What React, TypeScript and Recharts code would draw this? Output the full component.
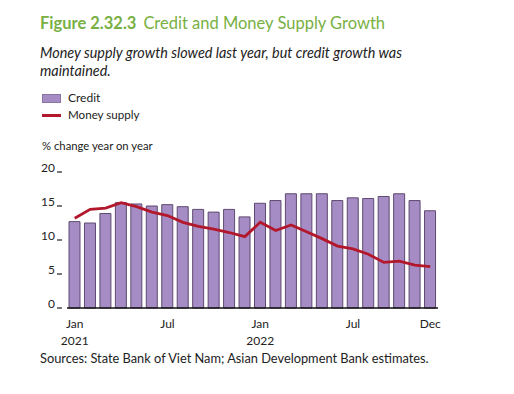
import React from 'react';
import { ComposedChart, Bar, Line, XAxis, YAxis } from 'recharts';

const months = [
  'Jan 2021', 'Feb 2021', 'Mar 2021', 'Apr 2021', 'May 2021', 'Jun 2021',
  'Jul 2021', 'Aug 2021', 'Sep 2021', 'Oct 2021', 'Nov 2021', 'Dec 2021',
  'Jan 2022', 'Feb 2022', 'Mar 2022', 'Apr 2022', 'May 2022', 'Jun 2022',
  'Jul 2022', 'Aug 2022', 'Sep 2022', 'Oct 2022', 'Nov 2022', 'Dec 2022',
];

const credit = [
  12.7, 12.5, 13.9, 15.5, 15.3, 15.0, 15.2, 14.9, 14.5, 14.1, 14.5, 13.4,
  15.4, 15.8, 16.8, 16.8, 16.8, 15.8, 16.2, 16.1, 16.4, 16.8, 15.8, 14.3,
];

const moneySupply = [
  13.2, 14.5, 14.7, 15.5, 14.9, 14.1, 13.6, 12.6, 12.0, 11.6, 11.1, 10.5,
  12.6, 11.4, 12.2, 11.2, 10.2, 9.1, 8.7, 7.9, 6.7, 6.9, 6.3, 6.1,
];

const yTicks = [0, 5, 10, 15, 20];

// month -> [month label, year label]
const xTickLabels: Record<string, [string, string]> = {
  'Jan 2021': ['Jan', '2021'],
  'Jul 2021': ['Jul', ''],
  'Jan 2022': ['Jan', '2022'],
  'Jul 2022': ['Jul', ''],
  'Dec 2022': ['Dec', ''],
};

const data = months.map((m, i) => ({ month: m, credit: credit[i], money: moneySupply[i] }));

const FONT = 'Lato, "Open Sans", sans-serif';

const LeftTick = (props: any) => {
  const { x, y, payload } = props;
  return (
    <g>
      <text x={x - 4} y={y} textAnchor="end" fontSize={12} fill="#222" fontFamily={FONT}>
        {payload.value}
      </text>
      <line x1={x - 2} x2={x + 3} y1={y} y2={y} stroke="#222" strokeWidth={1.2} />
    </g>
  );
};

const RightTick = (props: any) => {
  const { x, y } = props;
  return <line x1={x} x2={x + 5} y1={y} y2={y} stroke="#222" strokeWidth={1.2} />;
};

const MonthTick = (props: any) => {
  const { x, y, payload } = props;
  const lbl = xTickLabels[payload.value];
  if (!lbl) return null;
  return (
    <g>
      <text x={x} y={y + 12} textAnchor="middle" fontSize={12} fill="#222" fontFamily={FONT}>
        {lbl[0]}
      </text>
      {lbl[1] && (
        <text x={x} y={y + 29} textAnchor="middle" fontSize={12} fill="#222" fontFamily={FONT}>
          {lbl[1]}
        </text>
      )}
    </g>
  );
};

export default function App() {
  return (
    <div style={{ position: 'absolute', left: 0, top: 0, width: 514, height: 394, background: '#fff', fontFamily: FONT, color: '#222' }}>
      <div style={{ position: 'absolute', left: 0, top: 0 }}>
        <ComposedChart width={514} height={394} data={data} margin={{ top: 172, right: 0, bottom: 46, left: 0 }} barSize={11}>
          <XAxis
            dataKey="month"
            yAxisId="left"
            interval={0}
            tickLine={false}
            axisLine={{ stroke: '#111', strokeWidth: 1.5 }}
            tick={<MonthTick />}
            height={40}
          />
          <YAxis
            yAxisId="left"
            domain={[0, 20]}
            ticks={yTicks}
            width={67}
            axisLine={false}
            tickLine={false}
            tick={<LeftTick />}
          />
          <YAxis
            yAxisId="right"
            orientation="right"
            domain={[0, 20]}
            ticks={yTicks}
            width={76}
            axisLine={false}
            tickLine={false}
            tick={<RightTick />}
          />
          <Bar yAxisId="left" dataKey="credit" fill="#a68cc4" stroke="#5e4a70" strokeWidth={1} isAnimationActive={false} />
          <Line yAxisId="left" dataKey="money" type="linear" stroke="#b3172b" strokeWidth={2.8} dot={false} isAnimationActive={false} />
        </ComposedChart>
      </div>
      <div style={{ position: 'absolute', left: 40, top: 13, fontSize: 16.5, color: '#78b043', whiteSpace: 'nowrap', lineHeight: '20px' }}>
        <span style={{ fontWeight: 700 }}>Figure 2.32.3</span>
        <span style={{ marginLeft: 7 }}>Credit and Money Supply Growth</span>
      </div>
      <div style={{ position: 'absolute', left: 40, top: 44, width: 430, fontSize: 14.4, fontStyle: 'italic', lineHeight: '18px' }}>
        Money supply growth slowed last year, but credit growth was maintained.
      </div>
      <div style={{ position: 'absolute', left: 42, top: 94, width: 19, height: 9, background: '#a68cc4', border: '1px solid #8a74a4', boxSizing: 'border-box' }} />
      <div style={{ position: 'absolute', left: 68, top: 91, fontSize: 12, lineHeight: '14px' }}>Credit</div>
      <div style={{ position: 'absolute', left: 42, top: 114, width: 19, height: 2.5, background: '#b3172b' }} />
      <div style={{ position: 'absolute', left: 68, top: 108, fontSize: 11.6, lineHeight: '14px' }}>Money supply</div>
      <div style={{ position: 'absolute', left: 42, top: 139, fontSize: 11.3, lineHeight: '14px' }}>% change year on year</div>
      <div style={{ position: 'absolute', left: 40, top: 351, fontSize: 12.8, lineHeight: '15px', whiteSpace: 'nowrap' }}>
        Sources: State Bank of Viet Nam; Asian Development Bank estimates.
      </div>
    </div>
  );
}
